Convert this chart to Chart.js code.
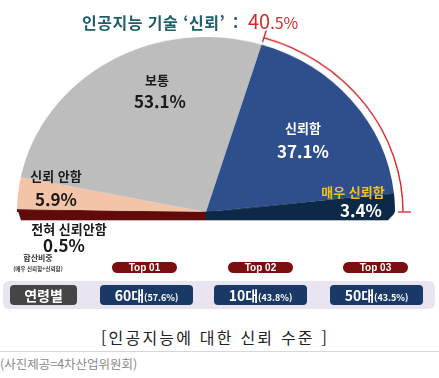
<!DOCTYPE html>
<html lang="ko">
<head>
<meta charset="UTF-8">
<title>인공지능에 대한 신뢰 수준</title>
<script src="https://cdn.jsdelivr.net/npm/chart.js"></script>
<style>
  body { margin: 0; width: 439px; height: 378px; position: relative; overflow: hidden; background: #fff;
         font-family: "Noto Sans CJK KR", "Noto Sans", sans-serif; }
  .abs { position: absolute; white-space: nowrap; transform: translate(-50%, -50%); line-height: 1; }
  .at { position: absolute; white-space: nowrap; line-height: 1; transform: translateY(-50%); }
  #pieWrap { position: absolute; left: 7px; top: 24px; transform: scaleY(0.926); transform-origin: 0 0; }
  .lbl { font-weight: 700; font-size: 13px; color: #1a1a1a; }
  .val { font-weight: 700; font-size: 17px; color: #1a1a1a; }
  .title { font-weight: 700; font-size: 16px; letter-spacing: 0.5px; color: #1f5e6e; }
  .pct { color: #d62a2a; font-weight: 400; font-size: 20px; }
  .pct small { font-size: 16px; }
  .pill { position: absolute; height: 11px; width: 65px; border-radius: 6px; background: #7b0e0e; color: #fff;
          font: bold 10px "Liberation Sans", Arial, sans-serif; text-align: center; line-height: 11px; }
  .panel { position: absolute; left: 3px; top: 281px; width: 432px; height: 28px; border-radius: 6px; background: #e8e4f0; }
  .box { position: absolute; top: 285px; height: 20px; border-radius: 4px; color: #fff; font-weight: 700;
         font-size: 14px; text-align: center; line-height: 20px; }
  .box small { font-size: 9px; }
  .caption { left: 215px; top: 337px; font-size: 16px; color: #222; letter-spacing: 2.2px; }
  .rule { position: absolute; left: 0; top: 351px; width: 439px; height: 1px; background: #d6d6d6; }
  .credit { position: absolute; left: 0; top: 358px; font-size: 12.5px; color: #8a8a8a; line-height: 1; }
</style>
</head>
<body>

<div id="pieWrap"><canvas id="trustChart" width="418" height="217"></canvas></div>
<div id="overlay"></div>

<script>
  // 인공지능 기술 신뢰 응답 비율 (%)
  const categories = ["전혀 신뢰안함", "신뢰 안함", "보통", "신뢰함", "매우 신뢰함"];
  const shares = [0.5, 5.9, 53.1, 37.1, 3.4];
  const sliceColors = ["#600a0a", "#f3c4a8", "#bdbdbd", "#2e4f8c", "#0c2a48"];

  // 연령별 합산비중 (매우 신뢰함 + 신뢰함)
  const rankLabels = ["Top 01", "Top 02", "Top 03"];
  const ageGroups = ["60대", "10대", "50대"];
  const ageShares = [57.6, 43.8, 43.5];

  const trustTotal = (shares[3] + shares[4]).toFixed(1);

  // bottom strip (3D edge) + red bracket over 신뢰 slices
  const pieExtras = {
    id: "pieExtras",
    beforeDatasetsDraw(chart) {
      const arcs = chart.getDatasetMeta(0).data;
      const { x, y, outerRadius } = arcs[0];
      const ctx = chart.ctx;
      ctx.save();
      ctx.fillStyle = sliceColors[0];
      ctx.beginPath();
      ctx.moveTo(x - outerRadius + 1, y - 1);
      ctx.lineTo(x, y - 1);
      ctx.lineTo(x, y + 9);
      ctx.lineTo(x - outerRadius + 4, y + 9);
      ctx.closePath();
      ctx.fill();
      ctx.fillStyle = sliceColors[4];
      ctx.beginPath();
      ctx.moveTo(x, y - 1);
      ctx.lineTo(x + outerRadius, y - 1);
      ctx.lineTo(x + outerRadius - 1, y + 2);
      ctx.lineTo(x + outerRadius - 7, y + 9);
      ctx.lineTo(x, y + 9);
      ctx.closePath();
      ctx.fill();
      ctx.restore();
    },
    afterDatasetsDraw(chart) {
      const arcs = chart.getDatasetMeta(0).data;
      const { x, y, outerRadius } = arcs[3];
      const start = arcs[3].startAngle;
      const end = arcs[4].endAngle;
      const r = outerRadius + 8;
      const ctx = chart.ctx;
      ctx.save();
      ctx.strokeStyle = "#d9262c";
      ctx.lineWidth = 1.4;
      ctx.beginPath();
      ctx.arc(x, y, r, start, end);
      ctx.stroke();
      [start, end].forEach(a => {
        ctx.beginPath();
        ctx.moveTo(x + Math.cos(a) * (outerRadius + 3), y + Math.sin(a) * (outerRadius + 3));
        ctx.lineTo(x + Math.cos(a) * (outerRadius + 16), y + Math.sin(a) * (outerRadius + 16));
        ctx.stroke();
      });
      ctx.restore();
    }
  };

  new Chart(document.getElementById("trustChart"), {
    type: "pie",
    data: {
      labels: categories,
      datasets: [{
        data: shares,
        backgroundColor: sliceColors,
        borderWidth: 0
      }]
    },
    options: {
      responsive: false,
      animation: false,
      rotation: -90,
      circumference: 180,
      layout: { padding: { left: 10, right: 30, top: 14, bottom: 14 } },
      plugins: {
        legend: { display: false },
        tooltip: { enabled: false }
      }
    },
    plugins: [pieExtras]
  });

  // text overlays
  const sliceLabelPos = [
    { lx: 69, ly: 228, vx: 64, vy: 244, lc: "#1a1a1a", vc: "#1a1a1a" },
    { lx: 56, ly: 175, vx: 56, vy: 198, lc: "#1a1a1a", vc: "#1a1a1a" },
    { lx: 157, ly: 79, vx: 160, vy: 100, lc: "#1a1a1a", vc: "#1a1a1a" },
    { lx: 303, ly: 127, vx: 303, vy: 150, lc: "#fff", vc: "#fff" },
    { lx: 353, ly: 191, vx: 361, vy: 209, lc: "#f2c21b", vc: "#fff" }
  ];
  const pillX = [112, 228, 343];
  const boxX = [100, 214, 330];

  const [whole, frac] = trustTotal.split(".");
  let html = "";
  html += `<div class="at title" style="left:82px;top:22px">인공지능 기술 ‘신뢰’</div>`;
  html += `<div class="at title" style="left:233px;top:22px">:</div>`;
  html += `<div class="at pct" style="left:248px;top:21px">${whole}<small>.${frac}%</small></div>`;
  categories.forEach((c, i) => {
    const p = sliceLabelPos[i];
    html += `<div class="abs lbl" style="left:${p.lx}px;top:${p.ly}px;color:${p.lc}">${c}</div>`;
    html += `<div class="abs val" style="left:${p.vx}px;top:${p.vy}px;color:${p.vc}">${shares[i].toFixed(1)}%</div>`;
  });
  html += `<div class="abs" style="left:38px;top:258px;font-size:8px;font-weight:700;color:#333">합산비중</div>`;
  html += `<div class="abs" style="left:38px;top:270px;font-size:5.5px;font-weight:700;color:#333">(매우 신뢰함+신뢰함)</div>`;
  rankLabels.forEach((t, i) => {
    html += `<div class="pill" style="left:${pillX[i]}px;top:262px">${t}</div>`;
  });
  html += `<div class="panel"></div>`;
  html += `<div class="box" style="left:10px;width:67px;background:#454545">연령별</div>`;
  ageGroups.forEach((g, i) => {
    html += `<div class="box" style="left:${boxX[i]}px;width:93px;background:#1a3966">${g}<small>(${ageShares[i].toFixed(1)}%)</small></div>`;
  });
  html += `<div class="abs caption">[인공지능에 대한 신뢰 수준 ]</div>`;
  html += `<div class="rule"></div>`;
  html += `<div class="credit">(사진제공=4차산업위원회)</div>`;
  document.getElementById("overlay").innerHTML = html;
</script>

</body>
</html>
